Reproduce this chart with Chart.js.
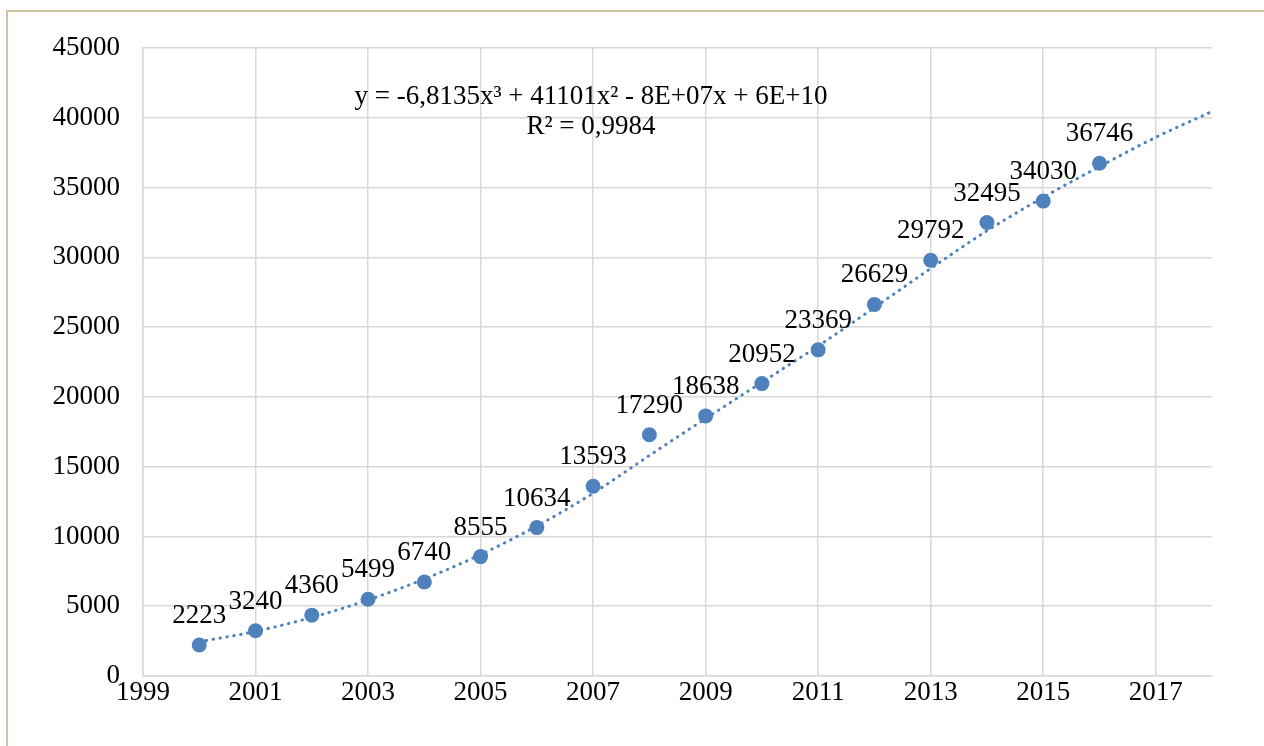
<!DOCTYPE html>
<html>
<head>
<meta charset="utf-8">
<script src="https://cdn.jsdelivr.net/npm/chart.js@4"></script>
<style>
  html, body { margin: 0; padding: 0; background: #fff; overflow: hidden; }
  #frame { position: absolute; left: 6px; top: 10px; width: 1400px; height: 900px; border: 2px solid #cbc3a3; }
  #wrap { position: absolute; left: 0; top: 0; width: 1264px; height: 746px; }
  #chart { display: block; width: 1264px; height: 746px; }
</style>
</head>
<body>
<div id="frame"></div>
<div id="wrap"><canvas id="chart" width="1264" height="746"></canvas></div>
<script>
// 実データ
var years = [2000, 2001, 2002, 2003, 2004, 2005, 2006, 2007, 2008, 2009, 2010, 2011, 2012, 2013, 2014, 2015, 2016];
var values = [2223, 3240, 4360, 5499, 6740, 8555, 10634, 13593, 17290, 18638, 20952, 23369, 26629, 29792, 32495, 34030, 36746];

// トレンドライン
var trendYears = [2000, 2001, 2002, 2003, 2004, 2005, 2006, 2007, 2008, 2009, 2010, 2011, 2012, 2013, 2014, 2015, 2016, 2017, 2018];
var trendValues = [2450, 3200, 4200, 5450, 6950, 8700, 10750, 13100, 15800, 18450, 21050, 23650, 26400, 29200, 31900, 34300, 36500, 38600, 40450];

// 目盛り
var xTicks = [1999, 2001, 2003, 2005, 2007, 2009, 2011, 2013, 2015, 2017];
var yTicks = [0, 5000, 10000, 15000, 20000, 25000, 30000, 35000, 40000, 45000];

var equationText = 'y = -6,8135x\u00B3 + 41101x\u00B2 - 8E+07x + 6E+10';
var r2Text = 'R\u00B2 = 0,9984';

var FONT = '"Liberation Serif", "Times New Roman", serif';
var FS = 27;
var BLUE = '#4f81bd';
var GRID = '#d9d9d9';

var points = [];
for (var i = 0; i < years.length; i++) {
    points.push({ x: years[i], y: values[i] });
}
var trend = [];
for (var j = 0; j < trendYears.length; j++) {
    trend.push({ x: trendYears[j], y: trendValues[j] });
}

// データラベルと近似式
var labelPlugin = {
    id: 'labels',
    afterDatasetsDraw: function (chart) {
        var ctx = chart.ctx;
        var meta = chart.getDatasetMeta(1);
        ctx.save();
        ctx.font = FS + 'px ' + FONT;
        ctx.fillStyle = '#000';
        ctx.textAlign = 'center';
        ctx.textBaseline = 'alphabetic';
        meta.data.forEach(function (el, k) {
            ctx.fillText(String(values[k]), el.x, el.y - 22);
        });
        var area = chart.chartArea;
        var cx = area.left + 448;
        ctx.fillText(equationText, cx, area.top + 56);
        ctx.fillText(r2Text, cx, area.top + 86);
        ctx.restore();
    }
};

var ctx = document.getElementById('chart').getContext('2d');
var chart = new Chart(ctx, {
    type: 'scatter',
    data: {
        datasets: [{
            label: 'trend',
            data: trend,
            showLine: true,
            borderColor: BLUE,
            borderWidth: 3,
            borderDash: [0.5, 6.5],
            borderCapStyle: 'round',
            cubicInterpolationMode: 'monotone',
            pointRadius: 0,
            fill: false
        }, {
            label: 'data',
            data: points,
            backgroundColor: BLUE,
            borderColor: BLUE,
            pointRadius: 7.5,
            pointHoverRadius: 7.5,
            borderWidth: 0
        }]
    },
    options: {
        responsive: false,
        animation: false,
        devicePixelRatio: 1,
        layout: { padding: { top: 48, right: 52, bottom: 26, left: 0 } },
        plugins: {
            legend: { display: false },
            tooltip: { enabled: false }
        },
        scales: {
            x: {
                type: 'linear',
                min: 1999,
                max: 2018,
                afterBuildTicks: function (scale) {
                    scale.ticks = xTicks.map(function (v) { return { value: v }; });
                },
                afterFit: function (scale) { scale.height = 44; },
                grid: { color: GRID, lineWidth: 1.5, drawTicks: false },
                border: { color: GRID, width: 1.5 },
                ticks: {
                    color: '#000',
                    font: { family: FONT, size: FS },
                    padding: 1,
                    maxRotation: 0,
                    autoSkip: false,
                    callback: function (v) { return String(v); }
                }
            },
            y: {
                min: 0,
                max: 45000,
                afterBuildTicks: function (scale) {
                    scale.ticks = yTicks.map(function (v) { return { value: v }; });
                },
                afterFit: function (scale) { scale.width = 143; },
                grid: { color: GRID, lineWidth: 1.5, drawTicks: false },
                border: { color: GRID, width: 1.5 },
                ticks: {
                    color: '#000',
                    font: { family: FONT, size: FS },
                    padding: 23,
                    callback: function (v) { return String(v); }
                }
            }
        }
    },
    plugins: [labelPlugin]
});
</script>
</body>
</html>
